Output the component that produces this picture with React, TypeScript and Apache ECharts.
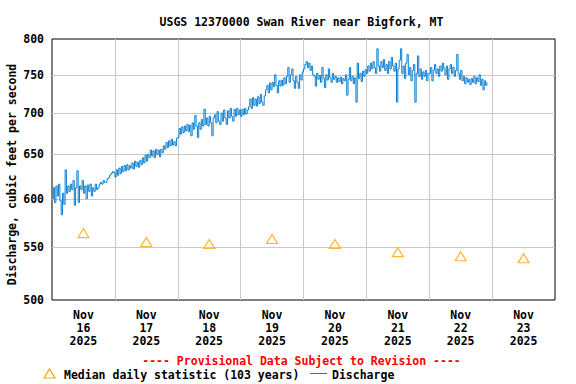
import { useEffect, useRef } from "react";
import * as echarts from "echarts";

const TITLE = "USGS 12370000 Swan River near Bigfork, MT";
const Y_NAME = "Discharge, cubic feet per second";
const PROVISIONAL = "---- Provisional Data Subject to Revision ----";
const LEGEND_MEDIAN = "Median daily statistic (103 years)";
const LEGEND_Q = "Discharge";

const Y_LABELS = [500, 550, 600, 650, 700, 750, 800];
const Y_GRID = [550, 600, 650, 700, 750];
const MONTH = "Nov";
const YEAR = "2025";
const DAYS = ["16", "17", "18", "19", "20", "21", "22", "23"];

// Median daily statistic, one per day (plotted at noon)
const MEDIAN = [564, 555, 553, 558, 553, 545, 541, 539];

// Discharge, 30-minute readings, starting at 00:00 of each day
const Q_NOV16 = [600, 612, 596, 614, 603, 616, 598, 583, 606, 594, 632, 606, 614, 608, 616, 610, 620, 593, 612, 631, 596, 614, 610, 620, 606, 614, 600, 615, 608, 616, 603, 612, 608, 616, 610, 612, 616, 618, 616, 620, 618, 618, 622, 623, 626, 628, 630, 629];
const Q_NOV17 = [624, 632, 626, 634, 628, 636, 630, 637, 631, 638, 632, 637, 634, 640, 633, 642, 636, 641, 635, 643, 638, 646, 640, 649, 642, 650, 646, 655, 648, 654, 646, 656, 650, 655, 647, 656, 652, 660, 656, 664, 658, 666, 660, 668, 661, 665, 660, 669];
const Q_NOV18 = [670, 681, 674, 683, 676, 684, 678, 686, 677, 685, 672, 688, 680, 697, 684, 670, 688, 680, 692, 684, 705, 686, 694, 684, 696, 688, 672, 694, 698, 688, 702, 690, 686, 700, 690, 704, 694, 686, 703, 694, 706, 696, 690, 705, 696, 706, 698, 704];
const Q_NOV19 = [696, 705, 698, 706, 699, 704, 708, 718, 706, 720, 710, 718, 709, 721, 712, 724, 714, 710, 722, 730, 736, 726, 739, 730, 740, 734, 750, 736, 726, 742, 735, 743, 736, 746, 738, 748, 760, 740, 750, 758, 742, 732, 748, 740, 732, 750, 743, 754];
const Q_NOV20 = [758, 764, 768, 760, 766, 756, 762, 750, 748, 735, 752, 744, 749, 740, 760, 745, 733, 750, 743, 758, 746, 740, 752, 744, 748, 740, 746, 741, 747, 738, 745, 742, 750, 723, 744, 760, 742, 748, 738, 746, 714, 766, 745, 752, 741, 755, 748, 757];
const Q_NOV21 = [752, 762, 755, 766, 758, 768, 760, 752, 786, 762, 755, 768, 760, 771, 756, 764, 752, 768, 758, 774, 762, 755, 766, 714, 758, 770, 786, 752, 762, 745, 766, 778, 750, 760, 742, 756, 764, 714, 752, 776, 748, 758, 744, 754, 748, 756, 742, 752];
const Q_NOV22 = [752, 760, 742, 756, 764, 752, 758, 748, 762, 755, 766, 758, 750, 762, 744, 758, 764, 752, 760, 748, 756, 778, 752, 744, 756, 742, 748, 738, 746, 740, 744, 737, 745, 740, 748, 738, 746, 741, 750, 736, 744, 730, 742, 736, 740];

const Q_DAYS = [Q_NOV16, Q_NOV17, Q_NOV18, Q_NOV19, Q_NOV20, Q_NOV21, Q_NOV22];

// x axis: hours since 2025-11-16 00:00
const HOURS_PER_DAY = 24;
const READING_STEP_H = 0.5;

const FONT_FAMILY = "DejaVu Sans Mono, monospace";
const FONT = `bold 11.5px ${FONT_FAMILY}`;
const BLUE = "#0a7fd1";
const ORANGE = "#ffa500";
const GRID_COLOR = "#c8c8c8";

function buildOption() {
  const qData: [number, number][] = [];
  Q_DAYS.forEach((arr, d) => {
    arr.forEach((v, i) => {
      qData.push([d * HOURS_PER_DAY + i * READING_STEP_H, v]);
    });
  });
  const medianData = MEDIAN.map((v, d) => [d * HOURS_PER_DAY + 12, v]);
  const dayBounds = DAYS.slice(1).map((_, i) => (i + 1) * HOURS_PER_DAY);
  const dayNoons = DAYS.map((_, i) => i * HOURS_PER_DAY + 12);

  return {
    animation: false,
    backgroundColor: "#ffffff",
    grid: {
      left: 52,
      top: 39,
      width: 503,
      height: 261,
      show: true,
      borderColor: "#000",
      borderWidth: 1,
      backgroundColor: "transparent",
    },
    xAxis: {
      type: "value",
      min: 0,
      max: DAYS.length * HOURS_PER_DAY,
      axisLine: { show: false },
      axisTick: { show: false, customValues: dayBounds },
      splitLine: { show: true, lineStyle: { color: GRID_COLOR, width: 1 } },
      axisLabel: {
        customValues: dayNoons,
        margin: 8,
        fontFamily: FONT_FAMILY,
        fontWeight: "bold",
        fontSize: 11.5,
        lineHeight: 13.3,
        color: "#000",
        align: "center",
        formatter: (val: number) => {
          const idx = Math.floor(val / HOURS_PER_DAY);
          return `${MONTH}\n${DAYS[idx]}\n${YEAR}`;
        },
      },
    },
    yAxis: {
      type: "log",
      logBase: 10,
      min: 500,
      max: 800,
      axisLine: { show: false },
      axisTick: { show: false, customValues: Y_GRID },
      splitLine: { show: true, lineStyle: { color: GRID_COLOR, width: 1 } },
      axisLabel: {
        customValues: Y_LABELS,
        margin: 8,
        fontFamily: FONT_FAMILY,
        fontWeight: "bold",
        fontSize: 11.5,
        color: "#000",
        formatter: (v: number) => String(Math.round(v)),
      },
    },
    series: [
      {
        name: LEGEND_Q,
        type: "line",
        data: qData,
        step: "end",
        showSymbol: false,
        symbol: "none",
        lineStyle: { color: BLUE, width: 1 },
        z: 3,
      },
      {
        name: LEGEND_MEDIAN,
        type: "scatter",
        data: medianData,
        symbol: "triangle",
        symbolSize: [11, 9],
        itemStyle: { color: "rgba(0,0,0,0)", borderColor: ORANGE, borderWidth: 1.2 },
        z: 4,
      },
    ],
    graphic: [
      {
        type: "text",
        x: 301.5,
        y: 22,
        style: { text: TITLE, font: FONT, fill: "#000", align: "center", verticalAlign: "middle" },
      },
      {
        type: "text",
        x: 12,
        y: 174.5,
        rotation: Math.PI / 2,
        style: { text: Y_NAME, font: FONT, fill: "#000", align: "center", verticalAlign: "middle" },
      },
      {
        type: "text",
        x: 301.5,
        y: 360.8,
        style: { text: PROVISIONAL, font: FONT, fill: "#ff0000", align: "center", verticalAlign: "middle" },
      },
      {
        type: "polygon",
        shape: { points: [[44, 378], [49.5, 369], [55, 378]] },
        style: { fill: "none", stroke: ORANGE, lineWidth: 1.2 },
      },
      {
        type: "text",
        x: 64,
        y: 374.8,
        style: { text: LEGEND_MEDIAN, font: FONT, fill: "#000", align: "left", verticalAlign: "middle" },
      },
      {
        type: "line",
        shape: { x1: 310, y1: 373.5, x2: 327, y2: 373.5 },
        style: { stroke: BLUE, lineWidth: 1 },
      },
      {
        type: "text",
        x: 332,
        y: 374.8,
        style: { text: LEGEND_Q, font: FONT, fill: "#000", align: "left", verticalAlign: "middle" },
      },
    ],
  };
}

export default function App() {
  const ref = useRef<HTMLDivElement>(null);
  useEffect(() => {
    if (!ref.current) return;
    const chart = echarts.init(ref.current, null, { renderer: "svg" });
    chart.setOption(buildOption() as any);
    return () => chart.dispose();
  }, []);
  return (
    <div
      ref={ref}
      style={{ position: "fixed", left: 0, top: 0, width: 576, height: 384, background: "#fff" }}
    />
  );
}
